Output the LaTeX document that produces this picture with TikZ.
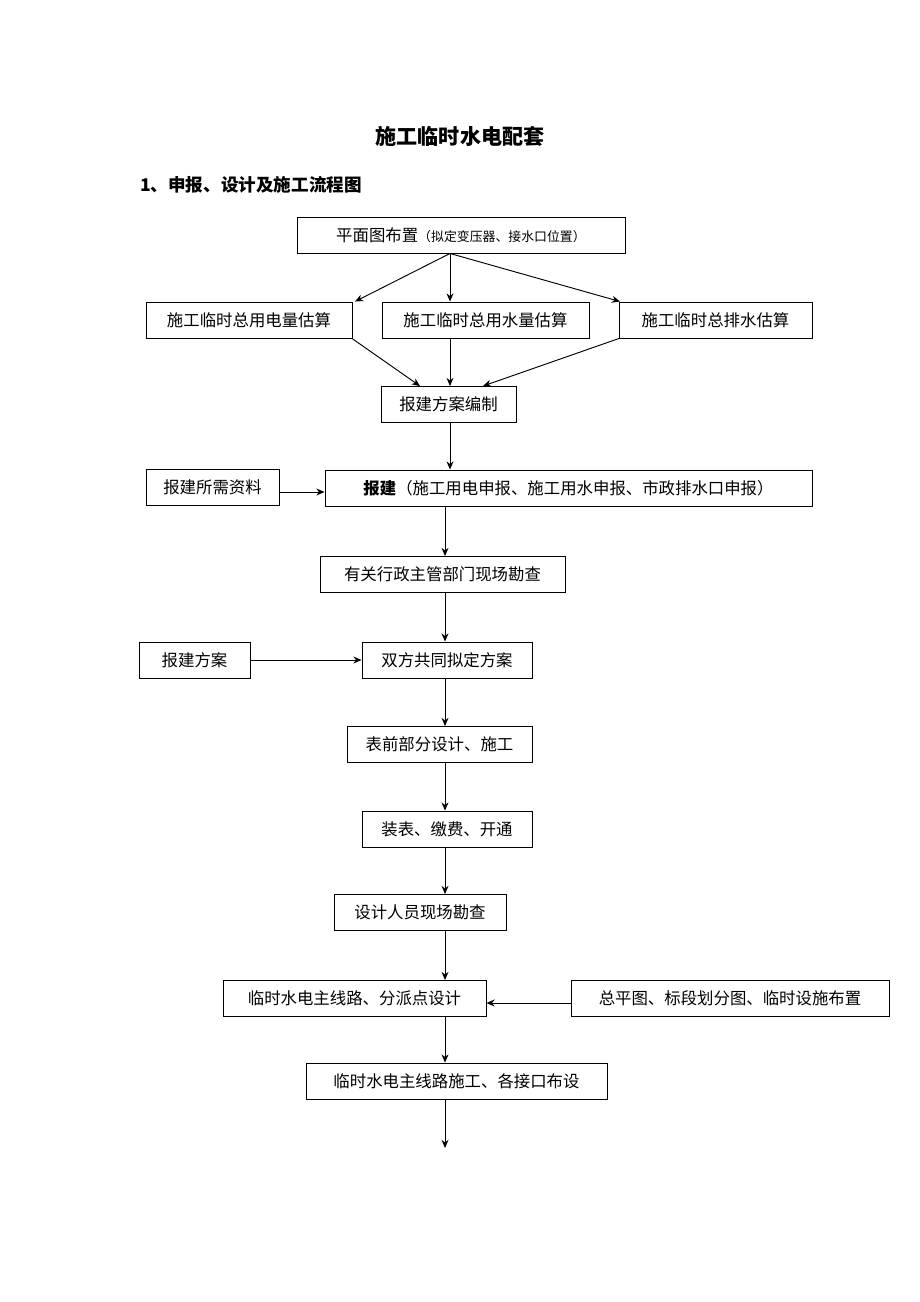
\documentclass[tikz,border=0pt]{standalone}
\usepackage{fontspec}
\setmainfont{Noto Sans CJK SC}
\usetikzlibrary{arrows.meta}
\tikzset{box/.style={draw=black, thick, minimum height=1.08cm, inner sep=2pt, font=\fontsize{14}{16}\selectfont},
	f/.style={-{Stealth[length=7pt,width=6pt]}, thick}}
\begin{document}
\begin{tikzpicture}[x=0.03cm, y=-0.03cm]
	\useasboundingbox (0,0) rectangle (920,1302);

	\node[font=\fontsize{18}{20}\selectfont\bfseries] (title) at (460,136) {施工临时水电配套};
	\node[font=\fontsize{15}{18}\selectfont\bfseries, anchor=west] (sub) at (136,185) {1、申报、设计及施工流程图};

	\node[box, minimum width=9.84cm] (a) at (461,235) {平面图布置{\fontsize{11}{13}\selectfont（拟定变压器、接水口位置）}};
	\node[box, minimum width=6.18cm] (b1) at (249,320) {施工临时总用电量估算};
	\node[box, minimum width=6.21cm] (b2) at (485.5,320) {施工临时总用水量估算};
	\node[box, minimum width=5.79cm] (b3) at (715.5,320) {施工临时总排水估算};
	\node[box, minimum width=4.05cm] (c) at (448.5,404.5) {报建方案编制};
	\node[box, minimum width=3.99cm] (d0) at (212.5,487.5) {报建所需资料};
	\node[box, minimum width=14.61cm] (d) at (568.5,488) {\textbf{报建}（施工用电申报、施工用水申报、市政排水口申报）};
	\node[box, minimum width=7.35cm] (e) at (442.5,574.5) {有关行政主管部门现场勘查};
	\node[box, minimum width=3.33cm] (f0) at (194.5,660) {报建方案};
	\node[box, minimum width=5.1cm] (f) at (447,660) {双方共同拟定方案};
	\node[box, minimum width=5.55cm] (g) at (439.5,744.5) {表前部分设计、施工};
	\node[box, minimum width=5.1cm] (h) at (447,829) {装表、缴费、开通};
	\node[box, minimum width=5.16cm] (i) at (420,912.5) {设计人员现场勘查};
	\node[box, minimum width=7.89cm] (j) at (354.5,998.5) {临时水电主线路、分派点设计};
	\node[box, minimum width=9.54cm] (j0) at (730,998.5) {总平图、标段划分图、临时设施布置};
	\node[box, minimum width=9.03cm] (k) at (456.5,1081) {临时水电主线路施工、各接口布设};
	\coordinate (end) at (445,1148);

	\draw[f] (a.south -| 450,0) -- (b1.north -| 355,0);
	\draw[f] (a.south -| 450,0) -- (b2.north -| 450,0);
	\draw[f] (a.south -| 450,0) -- (b3.north -| 620,0);
	\draw[f] (b1.south -| 352,0) -- (c.north -| 420,0);
	\draw[f] (b2.south -| 450,0) -- (c.north -| 450,0);
	\draw[f] (b3.south -| 619,0) -- (c.north -| 483,0);
	\draw[f] (c.south -| 450,0) -- (d.north -| 450,0);
	\draw[f] (d0.east |- 0,492) -- (d.west |- 0,492);
	\draw[f] (d.south -| 445,0) -- (e.north -| 445,0);
	\draw[f] (e.south -| 445,0) -- (f.north -| 445,0);
	\draw[f] (f0) -- (f);
	\draw[f] (f.south -| 445,0) -- (g.north -| 445,0);
	\draw[f] (g.south -| 445,0) -- (h.north -| 445,0);
	\draw[f] (h.south -| 445,0) -- (i.north -| 445,0);
	\draw[f] (i.south -| 445,0) -- (j.north -| 445,0);
	\draw[f] (j0.west |- 0,1003) -- (j.east |- 0,1003);
	\draw[f] (j.south -| 445,0) -- (k.north -| 445,0);
	\draw[f] (k.south -| 445,0) -- (end);
\end{tikzpicture}
\end{document}
